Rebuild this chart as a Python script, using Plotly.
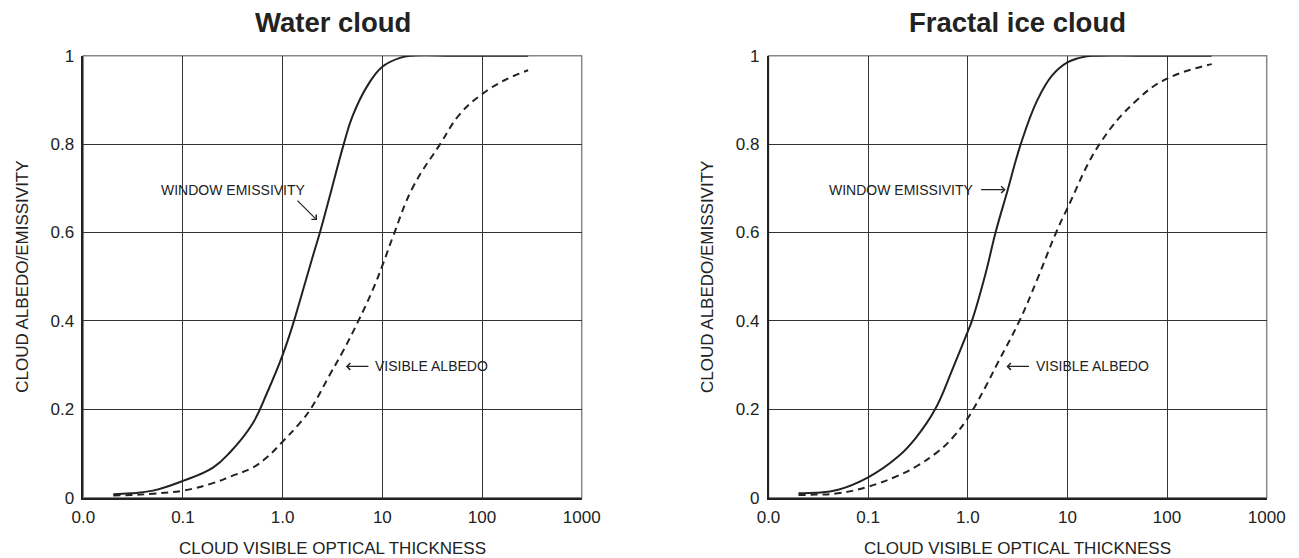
import plotly.graph_objects as go
import math

# ---------------- data ----------------
water_tau = [0.02, 0.03, 0.05, 0.1, 0.2, 0.3, 0.5, 0.7, 1.0, 1.3, 1.5, 2.0, 2.4, 3.0, 4.1, 5.0, 7.0, 10, 15, 20, 50, 100, 290]
water_emissivity = [0.008, 0.010, 0.016, 0.038, 0.068, 0.104, 0.168, 0.238, 0.323, 0.40, 0.448, 0.545, 0.605, 0.686, 0.80, 0.862, 0.93, 0.975, 0.995, 1.0, 1.0, 1.0, 1.0]

water_alb_tau = [0.02, 0.03, 0.05, 0.1, 0.2, 0.3, 0.5, 0.7, 1.0, 1.5, 1.9, 3.0, 4.0, 5.75, 8.0, 10, 13, 20, 38, 60, 100, 170, 290]
water_albedo = [0.005, 0.006, 0.009, 0.016, 0.033, 0.048, 0.068, 0.092, 0.127, 0.17, 0.2, 0.28, 0.33, 0.4, 0.47, 0.525, 0.595, 0.70, 0.80, 0.868, 0.913, 0.945, 0.967]

ice_tau = [0.02, 0.03, 0.05, 0.1, 0.2, 0.3, 0.47, 0.7, 1.0, 1.1, 1.5, 1.9, 2.5, 3.4, 5.0, 7.0, 10, 15, 20, 50, 100, 280]
ice_emissivity = [0.010, 0.011, 0.018, 0.046, 0.093, 0.135, 0.2, 0.29, 0.376, 0.40, 0.505, 0.6, 0.694, 0.8, 0.9, 0.955, 0.985, 0.998, 1.0, 1.0, 1.0, 1.0]

ice_alb_tau = [0.02, 0.03, 0.05, 0.1, 0.2, 0.3, 0.5, 0.7, 1.0, 1.2, 1.5, 2.0, 3.3, 5.0, 7.7, 10, 21, 50, 100, 281]
ice_albedo = [0.006, 0.007, 0.010, 0.025, 0.05, 0.07, 0.104, 0.135, 0.18, 0.21, 0.25, 0.305, 0.4, 0.495, 0.6, 0.655, 0.8, 0.9, 0.948, 0.981]

x_tickvals = [0.01, 0.1, 1, 10, 100, 1000]
x_ticktext = ["0.0", "0.1", "1.0", "10", "100", "1000"]
y_tickvals = [0, 0.2, 0.4, 0.6, 0.8, 1]
y_ticktext = ["0", "0.2", "0.4", "0.6", "0.8", "1"]

panel_titles = ["Water cloud", "Fractal ice cloud"]
x_title = "CLOUD VISIBLE OPTICAL THICKNESS"
y_title = "CLOUD ALBEDO/EMISSIVITY"
label_emis = "WINDOW EMISSIVITY"
label_alb = "VISIBLE ALBEDO"

# ---------------- figure ----------------
OFF = 8                      # page body margin of the html page
W, H = 1299 - OFF, 558 - OFF
FONT = "Liberation Sans, Arial, Helvetica, sans-serif"
INK = "#222222"

def px(xs):   # screen px -> paper fraction (x)
    return (xs - OFF) / W

def py(ys):   # screen px -> paper fraction (y)
    return 1 - (ys - OFF) / H

fig = go.Figure()

line_solid = dict(color=INK, width=2, shape="spline", smoothing=1.2)
line_dash = dict(color=INK, width=2, dash="7px,5px", shape="spline", smoothing=1.2)

fig.add_trace(go.Scatter(x=water_tau, y=water_emissivity, mode="lines", line=line_solid, xaxis="x", yaxis="y", showlegend=False))
fig.add_trace(go.Scatter(x=water_alb_tau, y=water_albedo, mode="lines", line=line_dash, xaxis="x", yaxis="y", showlegend=False))
fig.add_trace(go.Scatter(x=ice_tau, y=ice_emissivity, mode="lines", line=line_solid, xaxis="x2", yaxis="y2", showlegend=False))
fig.add_trace(go.Scatter(x=ice_alb_tau, y=ice_albedo, mode="lines", line=line_dash, xaxis="x2", yaxis="y2", showlegend=False))

x_dom_left = [px(83.3), px(581.7)]
x_dom_right = [px(768.5), px(1266.7)]
y_dom = [py(497.7), py(55.7)]

def xaxis(domain, anchor):
    return dict(domain=domain, anchor=anchor, type="log", range=[-2, 3], automargin=False,
                tickvals=x_tickvals, ticktext=x_ticktext,
                showgrid=True, gridcolor="#333333", gridwidth=1,
                showline=True, linecolor="#222222", linewidth=1.5, mirror=False,
                ticks="outside", ticklen=3, tickcolor="rgba(0,0,0,0)",
                tickfont=dict(family=FONT, size=17, color=INK), zeroline=False)

def yaxis(anchor):
    return dict(domain=y_dom, anchor=anchor, range=[0, 1], automargin=False,
                tickvals=y_tickvals, ticktext=y_ticktext,
                showgrid=True, gridcolor="#333333", gridwidth=1,
                showline=True, linecolor="#222222", linewidth=1.5, mirror=False,
                ticks="outside", ticklen=4, tickcolor="rgba(0,0,0,0)",
                tickfont=dict(family=FONT, size=17, color=INK), zeroline=False)

annotations = []
shapes = []
panels = [("x", "y", x_dom_left), ("x2", "y2", x_dom_right)]
for i, (xa, ya, dom) in enumerate(panels):
    cx = (dom[0] + dom[1]) / 2
    left_screen = dom[0] * W + OFF
    annotations.append(dict(text=f"<b>{panel_titles[i]}</b>", xref="paper", yref="paper",
                            x=cx, y=py(22.5), xanchor="center", yanchor="middle",
                            showarrow=False, font=dict(family=FONT, size=27.5, color=INK)))
    annotations.append(dict(text=x_title, xref="paper", yref="paper",
                            x=cx, y=py(548), xanchor="center", yanchor="middle",
                            showarrow=False, font=dict(family=FONT, size=17, color=INK)))
    annotations.append(dict(text=y_title, xref="paper", yref="paper",
                            x=px(left_screen - 60.5), y=py(277), xanchor="center", yanchor="middle",
                            textangle=-90, showarrow=False, font=dict(family=FONT, size=17, color=INK)))
    # frame: top and right borders (lighter)
    shapes.append(dict(type="rect", xref=f"{xa} domain", yref=f"{ya} domain",
                       x0=0, x1=1, y0=0, y1=1, line=dict(color="#888888", width=1.5), layer="below"))

lab_font = dict(family=FONT, size=14, color=INK)
arrow = dict(showarrow=True, arrowhead=4, arrowsize=1.1, arrowwidth=1.2, arrowcolor=INK, text="")

# left panel labels
annotations.append(dict(text=label_emis, xref="x", yref="y", x=-0.498, y=0.697, showarrow=False, font=lab_font))
annotations.append(dict(xref="x", yref="y", x=math.log10(2.21), y=0.628, ax=-21, ay=-21, **arrow))
annotations.append(dict(text=label_alb, xref="x", yref="y", x=1.496, y=0.297, showarrow=False, font=lab_font))
annotations.append(dict(xref="x", yref="y", x=0.634, y=0.297, ax=24, ay=0, **arrow))
# right panel labels
annotations.append(dict(text=label_emis, xref="x2", yref="y2", x=-0.662, y=0.697, showarrow=False, font=lab_font))
annotations.append(dict(xref="x2", yref="y2", x=0.380, y=0.697, ax=-26, ay=0, **arrow))
annotations.append(dict(text=label_alb, xref="x2", yref="y2", x=1.255, y=0.297, showarrow=False, font=lab_font))
annotations.append(dict(xref="x2", yref="y2", x=0.388, y=0.297, ax=24, ay=0, **arrow))

fig.update_layout(
    template="none",
    width=W, height=H,
    margin=dict(l=0, r=0, t=0, b=0, pad=0, autoexpand=False),
    paper_bgcolor="white", plot_bgcolor="white",
    font=dict(family=FONT, color=INK),
    xaxis=xaxis(x_dom_left, "y"),
    yaxis=yaxis("x"),
    xaxis2=xaxis(x_dom_right, "y2"),
    yaxis2=yaxis("x2"),
    annotations=annotations,
    shapes=shapes,
    showlegend=False,
)

fig.write_html("out.html")
